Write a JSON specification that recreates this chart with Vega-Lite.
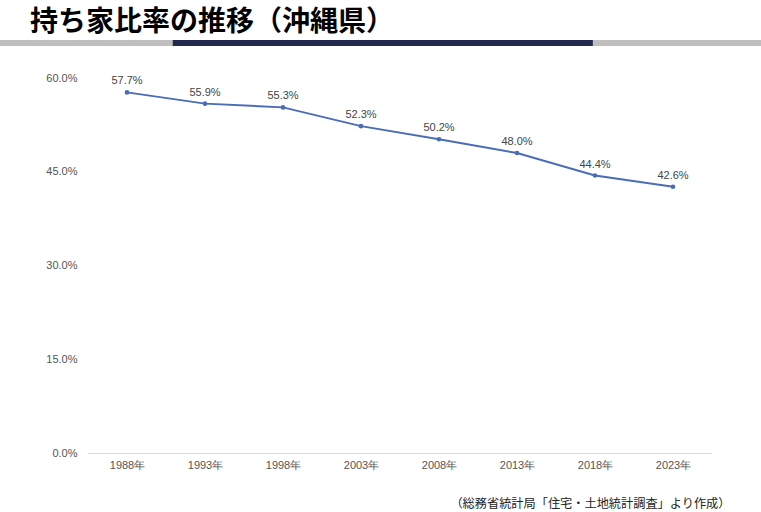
{
  "$schema": "https://vega.github.io/schema/vega-lite/v6.json",
  "padding": {"left": 0, "right": 0, "top": 9, "bottom": 0},
  "background": "white",
  "title": {
    "text": "持ち家比率の推移（沖縄県）",
    "anchor": "start",
    "font": "Noto Sans CJK JP",
    "fontSize": 28,
    "fontWeight": "bold",
    "color": "#000000",
    "dx": 30,
    "offset": 3
  },
  "spacing": 26,
  "vconcat": [
    {
      "width": 761,
      "height": 6,
      "data": {
        "values": [
          {"seg": "base", "start": 0, "end": 100},
          {"seg": "accent", "start": 22.7, "end": 77.9}
        ]
      },
      "mark": "rect",
      "encoding": {
        "x": {"field": "start", "type": "quantitative", "scale": {"domain": [0, 100]}, "axis": null},
        "x2": {"field": "end"},
        "color": {
          "field": "seg",
          "type": "nominal",
          "scale": {"domain": ["base", "accent"], "range": ["#bfbfbf", "#22294f"]},
          "legend": null
        }
      }
    },
    {
      "width": 712,
      "height": 375,
      "data": {
        "values": [
          {"year": "1988年", "rate": 0.577},
          {"year": "1993年", "rate": 0.559},
          {"year": "1998年", "rate": 0.553},
          {"year": "2003年", "rate": 0.523},
          {"year": "2008年", "rate": 0.502},
          {"year": "2013年", "rate": 0.480},
          {"year": "2018年", "rate": 0.444},
          {"year": "2023年", "rate": 0.426}
        ]
      },
      "encoding": {
        "x": {
          "field": "year",
          "type": "ordinal",
          "sort": null,
          "scale": {"range": [88, 712]},
          "axis": {
            "title": "（総務省統計局「住宅・土地統計調査」より作成）",
            "titleFont": "Noto Sans CJK JP",
            "titleFontSize": 12.2,
            "titleFontWeight": "normal",
            "titleColor": "#222222",
            "titleAnchor": null,
            "titleAlign": "right",
            "titleBaseline": "middle",
            "titleX": 730,
            "titleY": 50,
            "labelAngle": 0,
            "labelFont": "Liberation Sans",
            "labelFontSize": 11,
            "labelColor": "#555555",
            "labelPadding": 6,
            "ticks": false,
            "domainColor": "#d9d9d9",
            "domainWidth": 1,
            "grid": false
          }
        },
        "y": {
          "field": "rate",
          "type": "quantitative",
          "scale": {"domain": [0, 0.6]},
          "axis": {
            "title": null,
            "values": [0, 0.15, 0.3, 0.45, 0.6],
            "format": ".1%",
            "offset": -88,
            "labelFont": "Liberation Sans",
            "labelFontSize": 11,
            "labelColor": "#555555",
            "labelPadding": 11,
            "ticks": false,
            "domain": false,
            "grid": false
          }
        }
      },
      "layer": [
        {
          "mark": {"type": "line", "color": "#4a6db5", "strokeWidth": 2}
        },
        {
          "mark": {"type": "circle", "color": "#4a6db5", "size": 22, "opacity": 1}
        },
        {
          "mark": {
            "type": "text",
            "dy": -11,
            "baseline": "middle",
            "font": "Liberation Sans",
            "fontSize": 11,
            "color": "#444444"
          },
          "encoding": {
            "text": {"field": "rate", "type": "quantitative", "format": ".1%"}
          }
        }
      ]
    }
  ],
  "config": {
    "view": {"stroke": null}
  }
}
